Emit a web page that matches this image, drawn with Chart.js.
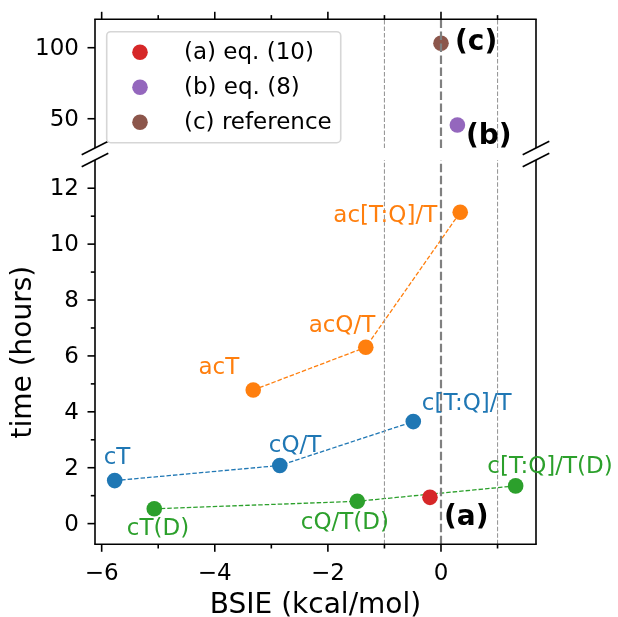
<!DOCTYPE html>
<html>
<head>
<meta charset="utf-8">
<script src="https://cdn.jsdelivr.net/npm/chart.js@4.4.0/dist/chart.umd.min.js"></script>
<style>
  html, body { margin: 0; padding: 0; background: #fff; overflow: hidden; }
  #wrap { position: relative; width: 618px; height: 617px; }
  canvas { position: absolute; left: 0; top: 0; }
</style>
</head>
<body>
<div id="wrap">
  <canvas id="lower" width="618" height="617"></canvas>
  <canvas id="upper" width="618" height="617"></canvas>
</div>
<script>
Chart.defaults.font.family = "'DejaVu Sans', sans-serif";
Chart.defaults.color = '#000';

// ---- data ----
const xTicks = [-6, -4, -2, 0];
const xMinor = [-5, -3, -1, 1];
const yTicksLow = [0, 2, 4, 6, 8, 10, 12];
const yMinorLow = [1, 3, 5, 7, 9, 11];
const yTicksHigh = [50, 100];
const refLines = [-1, 0, 1];

const cNames = ['cT', 'cQ/T', 'c[T:Q]/T'];
const cBsie  = [-5.77, -2.85, -0.49];
const cTime  = [1.54, 2.08, 3.65];

const acNames = ['acT', 'acQ/T', 'ac[T:Q]/T'];
const acBsie  = [-3.32, -1.33, 0.34];
const acTime  = [4.78, 6.31, 11.14];

const dNames = ['cT(D)', 'cQ/T(D)', 'c[T:Q]/T(D)'];
const dBsie  = [-5.07, -1.48, 1.32];
const dTime  = [0.53, 0.80, 1.35];

const methodLabels = ['(a) eq. (10)', '(b) eq. (8)', '(c) reference'];
const methodTags   = ['(a)', '(b)', '(c)'];
const methodBsie   = [-0.195, 0.29, 0.0];
const methodTime   = [0.94, 45.6, 103.1];

// axis limits
const xMin = -6.118, xMax = 1.68;
const lowMin = -0.74, lowMax = 13.01;
const highMin = 29.4, highMax = 120;

// ---- styles ----
const blue = '#1f77b4', orange = '#ff7f0e', green = '#2ca02c';
const methodColors = ['#d62728', '#9467bd', '#8c564b'];
const textFont = "23px 'DejaVu Sans'";
const boldFont = "bold 28px 'DejaVu Sans'";
const cTagPos = [
  {align: 'left', dx: -11, dy: -22.7},
  {align: 'left', dx: -11, dy: -19},
  {align: 'left', dx: 8.5, dy: -17.7}
];
const acTagPos = [
  {align: 'right', dx: -14, dy: -21.7},
  {align: 'right', dx: 9.5, dy: -21.3},
  {align: 'right', dx: -23, dy: 3.7}
];
const dTagPos = [
  {align: 'left', dx: -27.5, dy: 20.3},
  {align: 'left', dx: -56.5, dy: 21.4},
  {align: 'left', dx: -28.3, dy: -19.3}
];
const methodTagPos = [
  {align: 'left', dx: 14, dy: 20},
  {align: 'left', dx: 8.5, dy: 11.7},
  {align: 'left', dx: 14, dy: -0.6}
];

const zip = (xs, ys) => xs.map((v, i) => ({x: v, y: ys[i]}));
const minus = v => String(v).replace('-', '\u2212');

function series(label, xs, ys, color, names, pos) {
  return {
    label, data: zip(xs, ys), showLine: true, order: 2,
    borderColor: color, borderWidth: 1.3, borderDash: [4.5, 2],
    pointRadius: 7.8, pointBackgroundColor: color, pointBorderWidth: 0,
    tags: names, tagPos: pos, tagFont: textFont, tagColor: color
  };
}

function methodSets(keep) {
  return methodTime.map((t, i) => ({
    label: methodLabels[i], data: [{x: methodBsie[i], y: t}], order: 1,
    pointRadius: 7.8, pointBackgroundColor: methodColors[i], pointBorderWidth: 0,
    tags: [methodTags[i]], tagPos: [methodTagPos[i]], tagFont: boldFont, tagColor: '#000'
  })).filter((d, i) => keep(methodTime[i]));
}

function refSets(lo, hi) {
  return refLines.map(v => ({
    data: [{x: v, y: lo}, {x: v, y: hi}], showLine: true, order: 0,
    pointRadius: 0, borderColor: v === 0 ? '#808080' : '#999999',
    borderWidth: v === 0 ? 2.2 : 1.1, borderDash: v === 0 ? [8.5, 3.5] : [4.5, 2]
  }));
}

// spines, tick marks, tick labels and break marks
const frame = {
  id: 'frame',
  afterDatasetsDraw(chart, args, o) {
    const {ctx, chartArea: a, scales: {x, y}} = chart;
    const seg = (x1, y1, x2, y2) => { ctx.beginPath(); ctx.moveTo(x1, y1); ctx.lineTo(x2, y2); ctx.stroke(); };
    const edgeY = o.upper ? a.top : a.bottom;
    const gapY = o.upper ? a.bottom : a.top;
    const dir = o.upper ? -1 : 1;
    ctx.save();
    ctx.strokeStyle = '#000';
    ctx.lineWidth = 1.6;
    ctx.lineCap = 'butt';
    seg(a.left, a.top, a.left, a.bottom);
    seg(a.right, a.top, a.right, a.bottom);
    ctx.lineCap = 'square';
    seg(a.left, edgeY, a.right, edgeY);
    ctx.lineCap = 'butt';
    xTicks.forEach(v => { const p = x.getPixelForValue(v); seg(p, edgeY, p, edgeY + dir * 7.5); });
    xMinor.forEach(v => { const p = x.getPixelForValue(v); seg(p, edgeY, p, edgeY + dir * 4.2); });
    o.yMajor.forEach(v => { const p = y.getPixelForValue(v); seg(a.left, p, a.left - 7.5, p); });
    o.yMinor.forEach(v => { const p = y.getPixelForValue(v); seg(a.left, p, a.left - 4.2, p); });
    [a.left, a.right].forEach(px => seg(px - 13.3, gapY + 6.7, px + 13.3, gapY - 6.7));

    ctx.font = textFont;
    ctx.fillStyle = '#000';
    if (!o.upper) {
      ctx.textAlign = 'center';
      ctx.textBaseline = 'alphabetic';
      xTicks.forEach(v => ctx.fillText(minus(v), x.getPixelForValue(v), a.bottom + 35.7));
    }
    ctx.textAlign = 'right';
    ctx.textBaseline = 'middle';
    o.yMajor.forEach(v => ctx.fillText(minus(v), a.left - 16, y.getPixelForValue(v) + 1));
    ctx.restore();
  }
};

// point labels
const tags = {
  id: 'tags',
  afterDatasetsDraw(chart) {
    const {ctx, scales: {x, y}} = chart;
    ctx.save();
    ctx.textBaseline = 'middle';
    chart.data.datasets.forEach(ds => {
      if (!ds.tags) return;
      ds.data.forEach((d, i) => {
        const s = ds.tagPos[i];
        ctx.font = ds.tagFont;
        ctx.fillStyle = ds.tagColor;
        ctx.textAlign = s.align;
        ctx.fillText(ds.tags[i], x.getPixelForValue(d.x) + s.dx, y.getPixelForValue(d.y) + s.dy);
      });
    });
    ctx.restore();
  }
};

// legend box (upper panel)
const legendBox = {
  id: 'legendBox',
  afterDraw(chart) {
    const {ctx, chartArea: a} = chart;
    const left = a.left + 11.7, top = a.top + 12.4, rowH = 35;
    ctx.save();
    ctx.font = textFont;
    const w = Math.max(...methodLabels.map(t => ctx.measureText(t).width)) + 77.3 + 9;
    const h = rowH * methodLabels.length + 6;
    ctx.beginPath();
    ctx.roundRect(left, top, w, h, 4);
    ctx.fillStyle = 'rgba(255,255,255,0.8)';
    ctx.fill();
    ctx.strokeStyle = '#d6d6d6';
    ctx.lineWidth = 1.6;
    ctx.stroke();
    ctx.textBaseline = 'middle';
    ctx.textAlign = 'left';
    methodLabels.forEach((t, i) => {
      const cy = top + 3 + rowH * (i + 0.5);
      ctx.beginPath();
      ctx.arc(left + 33.3, cy, 7.8, 0, Math.PI * 2);
      ctx.fillStyle = methodColors[i];
      ctx.fill();
      ctx.fillStyle = '#000';
      ctx.fillText(t, left + 77.3, cy + 0.5);
    });
    ctx.restore();
  }
};

const noGrid = {display: false};

// lower panel
new Chart(document.getElementById('lower'), {
  type: 'scatter',
  data: {
    datasets: [
      ...refSets(lowMin, lowMax),
      ...methodSets(t => t <= lowMax),
      series('c', cBsie, cTime, blue, cNames, cTagPos),
      series('ac', acBsie, acTime, orange, acNames, acTagPos),
      series('cD', dBsie, dTime, green, dNames, dTagPos)
    ]
  },
  options: {
    responsive: false, animation: false, events: [],
    layout: {padding: {left: 0, right: 82, top: 160, bottom: 0}},
    plugins: {legend: {display: false}, tooltip: {enabled: false},
              frame: {upper: false, yMajor: yTicksLow, yMinor: yMinorLow}},
    scales: {
      x: {
        type: 'linear', position: 'bottom', min: xMin, max: xMax,
        afterFit: s => { s.height = 72.7; },
        grid: noGrid, border: {display: false}, ticks: {display: false},
        title: {display: true, text: 'BSIE (kcal/mol)', font: {size: 28}, color: '#000', padding: {top: 0, bottom: -5.5}}
      },
      y: {
        type: 'linear', position: 'left', min: lowMin, max: lowMax,
        afterFit: s => { s.width = 95; },
        grid: noGrid, border: {display: false}, ticks: {display: false},
        title: {display: true, text: 'time (hours)', font: {size: 28}, color: '#000', padding: {top: 6.5, bottom: 0}}
      }
    }
  },
  plugins: [frame, tags]
});

// upper panel
new Chart(document.getElementById('upper'), {
  type: 'scatter',
  data: {
    datasets: [
      ...refSets(highMin, highMax),
      ...methodSets(t => t >= highMin)
    ]
  },
  options: {
    responsive: false, animation: false, events: [],
    layout: {padding: {left: 0, right: 82, top: 19.3, bottom: 469}},
    plugins: {legend: {display: false}, tooltip: {enabled: false},
              frame: {upper: true, yMajor: yTicksHigh, yMinor: []}},
    scales: {
      x: {type: 'linear', display: false, min: xMin, max: xMax},
      y: {
        type: 'linear', position: 'left', min: highMin, max: highMax,
        afterFit: s => { s.width = 95; },
        grid: noGrid, border: {display: false}, ticks: {display: false}
      }
    }
  },
  plugins: [frame, tags, legendBox]
});
</script>
</body>
</html>
